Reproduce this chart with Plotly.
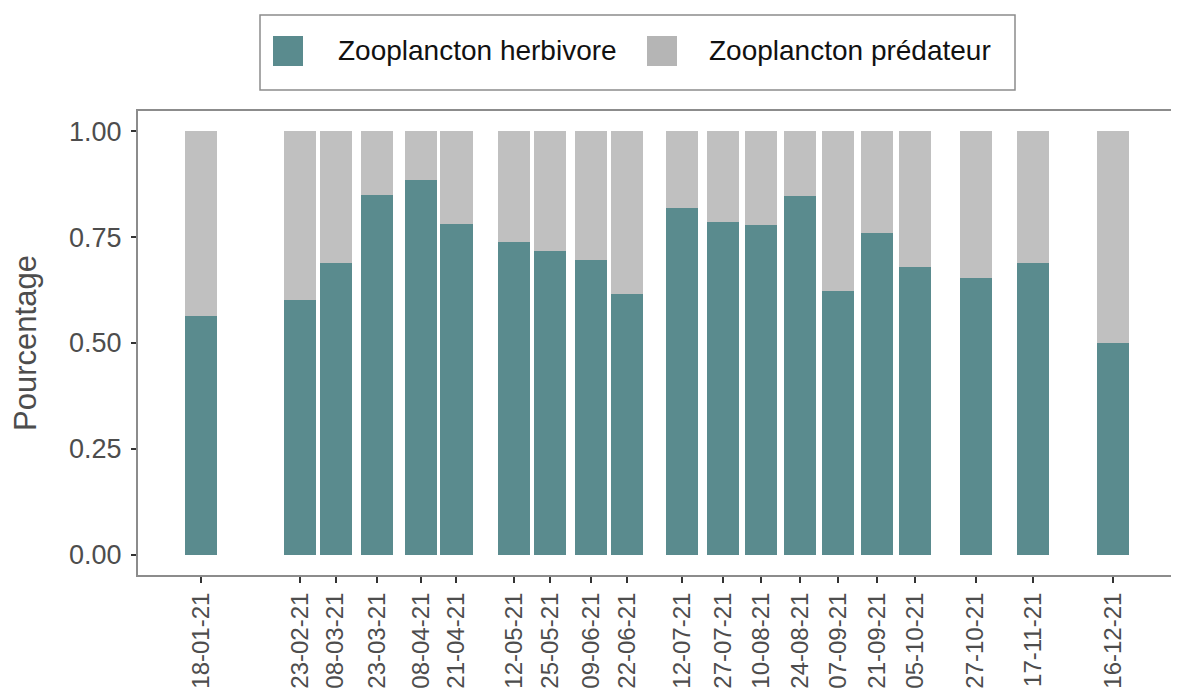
import plotly.graph_objects as go

dates = ["2021-01-18", "2021-02-23", "2021-03-08", "2021-03-23", "2021-04-08",
         "2021-04-21", "2021-05-12", "2021-05-25", "2021-06-09", "2021-06-22",
         "2021-07-12", "2021-07-27", "2021-08-10", "2021-08-24", "2021-09-07",
         "2021-09-21", "2021-10-05", "2021-10-27", "2021-11-17", "2021-12-16"]
tick_labels = ["18-01-21", "23-02-21", "08-03-21", "23-03-21", "08-04-21",
               "21-04-21", "12-05-21", "25-05-21", "09-06-21", "22-06-21",
               "12-07-21", "27-07-21", "10-08-21", "24-08-21", "07-09-21",
               "21-09-21", "05-10-21", "27-10-21", "17-11-21", "16-12-21"]
herbivore = [0.564, 0.601, 0.688, 0.849, 0.886, 0.781, 0.739, 0.718, 0.697, 0.616,
             0.819, 0.786, 0.778, 0.847, 0.623, 0.760, 0.679, 0.653, 0.688, 0.499]
predateur = [0.436, 0.399, 0.312, 0.151, 0.114, 0.219, 0.261, 0.282, 0.303, 0.384,
             0.181, 0.214, 0.222, 0.153, 0.377, 0.240, 0.321, 0.347, 0.312, 0.501]
series_names = ["Zooplancton herbivore", "Zooplancton prédateur"]

TEAL = "#5a8b8e"
GREY = "#c0c0c0"
FONT = "Liberation Sans"
BAR_W = 11.7 * 86400000  # ms

# the page body adds an 8px margin; work in reference pixels and shift by OFF
OFF = 8
FIG_W, FIG_H = 1179 - OFF, 693 - OFF

fig = go.Figure()
fig.add_trace(go.Bar(x=dates, y=herbivore, name=series_names[0], width=BAR_W,
                     marker=dict(color=TEAL, line=dict(width=0)), showlegend=False))
fig.add_trace(go.Bar(x=dates, y=predateur, name=series_names[1], width=BAR_W,
                     marker=dict(color=GREY, line=dict(width=0)), showlegend=False))

# plot area in reference pixels: x 138..1179, y 111..575
L, R, T, B = 138, 1179, 111, 575
W, H = R - L, B - T
def px(x):
    return (x - L) / W
def py(y):
    return (B - y) / H

shapes = [
    dict(type="rect", xref="paper", yref="paper", x0=px(260), x1=px(1015), y0=py(90), y1=py(15),
         line=dict(color="#8c8c8c", width=1.5), fillcolor="white"),
    dict(type="rect", xref="paper", yref="paper", x0=px(273), x1=px(303), y0=py(66), y1=py(36),
         line=dict(width=0), fillcolor=TEAL),
    dict(type="rect", xref="paper", yref="paper", x0=px(647), x1=px(677), y0=py(66), y1=py(36),
         line=dict(width=0), fillcolor="#b5b5b5"),
]
annotations = [
    dict(text=series_names[0], xref="paper", yref="paper", x=px(336), y=py(51),
         xanchor="left", yanchor="middle", showarrow=False,
         font=dict(family=FONT, size=28, color="#111")),
    dict(text=series_names[1], xref="paper", yref="paper", x=px(707), y=py(51),
         xanchor="left", yanchor="middle", showarrow=False,
         font=dict(family=FONT, size=28, color="#111")),
]

fig.update_layout(
    width=FIG_W, height=FIG_H,
    margin=dict(l=L - OFF, r=0, t=T - OFF, b=FIG_H - (B - OFF), pad=0),
    barmode="stack", bargap=0,
    plot_bgcolor="white", paper_bgcolor="white",
    font=dict(family=FONT, color="#4d4d4d"),
    shapes=shapes, annotations=annotations,
    showlegend=False,
)
fig.update_xaxes(
    type="date",
    range=["2020-12-26 02:00", "2022-01-09 00:00"],
    tickvals=dates, ticktext=tick_labels, tickangle=-90,
    tickfont=dict(family=FONT, size=24, color="#4d4d4d"),
    ticks="outside", ticklen=6, tickwidth=2, tickcolor="#333",
    showline=True, linecolor="#8c8c8c", linewidth=2, mirror=True,
    showgrid=False, zeroline=False,
)
fig.update_yaxes(
    range=[-0.048, 1.048],
    tickvals=[0, 0.25, 0.5, 0.75, 1.0],
    ticktext=["0.00", "0.25", "0.50", "0.75", "1.00"],
    tickfont=dict(family=FONT, size=27, color="#4d4d4d"),
    ticks="outside", ticklen=5, tickwidth=2, tickcolor="#333",
    ticklabelstandoff=4,
    showline=True, linecolor="#8c8c8c", linewidth=2, mirror=False,
    showgrid=False, zeroline=False,
    title=dict(text="Pourcentage", font=dict(family=FONT, size=31, color="#4d4d4d"), standoff=24),
)

fig.write_html("out.html")
